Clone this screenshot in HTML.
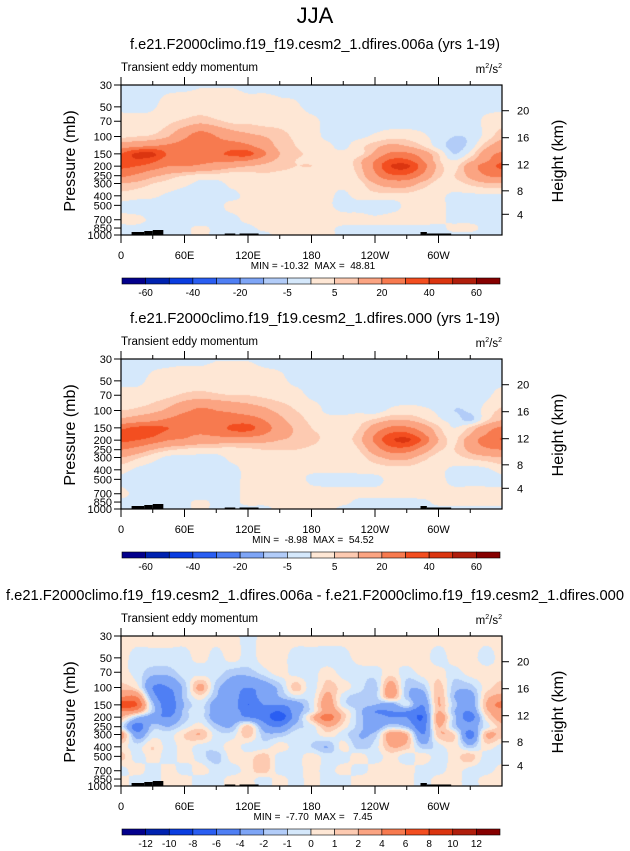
<!DOCTYPE html>
<html><head><meta charset="utf-8">
<style>
html,body{margin:0;padding:0;background:#fff;}
#root{position:relative;width:630px;height:851px;overflow:hidden;font-family:"Liberation Sans",Arial,sans-serif;}
canvas{position:absolute;}
svg{position:absolute;left:0;top:0;}
</style></head>
<body>
<div id="root">
<canvas id="c1" width="381" height="150" style="left:121px;top:85px"></canvas>
<canvas id="c2" width="381" height="150" style="left:121px;top:359px"></canvas>
<canvas id="c3" width="381" height="150" style="left:121px;top:636px"></canvas>
<svg id="ov" width="630" height="851" xmlns="http://www.w3.org/2000/svg">
<text x="315" y="23" font-size="22" text-anchor="middle">JJA</text>
</svg>
</div>
<script>
// ---- data ----
const lons = [0,15,30,45,60,75,90,105,120,135,150,165,180,195,210,225,240,255,270,285,300,315,330,345,360];
const levels = [30,50,70,100,125,150,175,200,250,300,400,500,700,850,1000];
const field1 = [
[-1,-1,-1,-1,-1,-0.3,-0.3,-0.3,-1,-1,-1,-1,-1,-1,-1,-1,-1,-1,-1,-1,-1,-1,-1,-1,-1],
[-1,-1,-0.5,2,3,3,3,3,2,2,1,0.5,-1,-1,-1,-1,-1,-1,-1,-1,-1,-1,-1,-1,-1],
[2,2,2,4,6,8,6,4,4,3,3,2,1,-1,-2,-2,-2,-2,-2,-2,-2,-2,-2,1,3],
[4,5,6,10,18,25,20,15,12,10,7,4,2,-1,-1,-1,1,3,3,1,-2,-5,-4,2,8],
[15,18,20,22,24,25,22,25,22,15,8,5,3,1,-1,3,8,12,10,5,-2,-7,-3,8,15],
[30,42,42,28,25,25,28,32,33,22,10,6,4,1,1,3,12,22,22,15,5,-5,2,15,22],
[33,38,33,24,22,22,22,22,20,14,8,5,4,2,1,8,20,32,32,20,6,0,8,18,28],
[32,30,25,20,20,18,15,12,10,8,6,5,5,3,2,8,22,40,42,25,8,3,15,25,32],
[22,18,12,8,5,3,3,2,3,4,4,4,3,2,1,6,18,28,28,18,6,5,12,20,22],
[10,8,5,3,1,-1,-1,1,2,2,2,2,2,1,1,3,10,14,14,8,3,3,6,9,10],
[3,2,1,-1,-2,-2,-1,-1,1,1,1,1,1,1,-1,2,3,3,3,2,1,-1,-1,-1,-1],
[-1,-2,-2,-3,-2,-2,-1,1,1,2,2,2,2,1,-2,-2,-3,-2,1,2,1,-1,-1,-1,-1],
[1,1,-1,-3,-2,-3,-1,-1,1,2,2,2,2,2,2,2,1,2,2,2,1,-1,-1,-1,-1],
[-1,-1,-2,-1,-1,1,-1,-1,-1,1,1,1,1,1,-1,-1,-1,-1,-1,-1,-1,1,1,-1,-1],
[-1,-1,-1,-1,-1,1,-1,-1,-1,-1,1,1,1,1,-1,-1,-1,-1,-1,-1,-1,-1,-1,-1,-1]];
const field2 = [
[-1,-1,-1,-1,-1,-1,-0.2,-0.2,-0.2,-1,-1,-1,-1,-1,-1,-1,-1,-1,-1,-1,-1,-1,-1,-1,-1],
[-1,-1,1,2,3,3,3,3,3,2,1,-1,-1,-1,-1,-1,-1,-1,-1,-1,-1,-1,-1,-1,-1],
[2,2,3,4,6,7,6,5,5,4,3,2,-1,-1,-2,-2,-2,-2,-2,-2,-2,-2,-2,-1,2],
[5,6,8,12,18,22,20,18,15,12,8,5,3,-1,-1,-1,-2,1,2,1,-1,-5,-4,2,6],
[12,15,18,22,25,24,22,25,25,20,12,7,4,2,1,3,6,10,10,6,1,-2,-6,4,10],
[28,32,32,30,25,22,25,32,33,25,15,9,5,3,2,5,14,22,22,15,6,0,6,15,22],
[32,35,32,26,22,20,22,25,25,20,14,9,6,4,3,7,20,32,33,22,8,3,10,20,28],
[32,30,25,20,18,15,14,14,13,12,10,8,6,4,3,8,22,38,42,28,10,4,15,25,30],
[20,16,10,6,4,3,3,3,4,5,5,5,4,3,2,5,15,25,25,15,6,5,12,18,20],
[10,6,2,-1,-1,-1,-1,1,2,2,2,2,2,2,1,3,8,12,12,7,3,3,6,8,10],
[2,-1,-2,-2,-2,-2,-1,-1,1,1,1,1,1,1,1,1,2,3,3,2,1,-1,-2,-1,2],
[-1,-2,-2,-2,-2,-3,-1,-1,1,2,2,2,-1,-2,-2,-1,-1,1,2,2,1,-1,-1,-1,-1],
[1,-1,-1,-2,-2,-3,-1,-1,1,1,2,2,2,2,2,1,1,1,1,2,1,1,1,1,1],
[-1,-1,-1,-1,-1,1,-1,-1,1,1,1,1,1,1,1,-1,-1,-1,-1,-1,1,1,1,1,1],
[-1,-1,-1,-1,-1,1,-1,-1,-1,-1,1,1,1,1,-1,-1,-1,-1,-1,-1,-1,-1,-1,-1,-1]];
const field3 = [
[0.5,0.5,0.5,0.5,0.5,0.5,0.5,0.5,-0.5,0.5,0.5,0.5,0.5,0.5,0.5,0.5,0.5,0.5,0.5,0.5,0.5,0.5,0.5,0.5,0.5],
[0.5,-0.5,-0.5,-0.5,-0.5,0.5,-0.5,0.5,-0.5,0.5,0.5,-0.5,-0.5,-0.5,-0.5,0.5,0.5,0.5,0.5,0.5,-0.5,0.5,0.5,-0.5,0.5],
[0.5,-0.5,-1.5,-1.5,-0.5,-0.5,-0.5,-1.5,-1.5,-0.5,0.5,-0.5,-0.5,0.5,-0.5,-0.5,-0.5,0.5,-0.5,0.5,0.5,-0.5,0.5,0.5,0.5],
[1.5,0.5,-4,-4,-1.5,2.5,-1.5,-3,-4,-3,-1.5,1.5,-0.5,1.5,0.5,-0.5,-1.5,3,-1.5,-1.5,1.5,-1.5,-1.5,0.5,1.5],
[4,4,-3,-5,-1.5,0.5,-2,-3,-5,-3,-2,-0.5,-0.5,2.5,-0.5,-1.5,-1.5,2.5,-1.5,-3,2,-2,-3,1.5,2.5],
[7,6,-1.5,-5,-2,-0.5,-3,-3,-6,-4,-4,-3,-0.5,3,-0.5,-1.5,-2,-3,-0.5,-4,2,-1.5,-3,2,5],
[4,3,-1.5,-5,-1.5,-0.5,-3,-3,-5,-5,-6,-3,-0.5,3,1,-1.5,-4,-4,-4,-5,2,-2,-4,1.5,3],
[2,-1.5,-3,-4,-1.5,-0.5,-3,-3,-4,-5,-7,-3,1.5,5,1.5,-1.5,-3,-4,-4,-6,3,-1.5,-5,0.5,3],
[-0.5,-5,-1.5,-2,-0.5,0.5,-1.5,-2,1.5,-3,-4,-1.5,-0.5,2,0.5,-1.5,-3,-1,-2,-5,2,-1.5,-3,-0.5,1.5],
[3,-3,-0.5,-0.5,1,2,-0.5,-0.5,1.5,-1.5,-1.5,-0.5,-0.5,0.5,-0.5,-2,-1.5,3,2,-4,1.5,1,-5,2,1.5],
[0.5,-0.5,1,-0.5,0.5,-0.5,-0.5,0.5,-0.5,-0.5,0.5,-0.5,-1,-2,0.5,-1.5,-0.5,2,1.5,-1.5,-0.5,0.5,-1.5,0.5,-0.5],
[1.5,-0.5,0.5,-0.5,0.5,-0.5,-1.5,0.5,0.5,1.5,-0.5,-0.5,0.5,-0.5,-0.5,0.5,-0.5,0.5,-0.5,0.5,-0.5,0.5,1.5,-0.5,-0.5],
[-0.5,0.5,-0.5,0.5,-0.5,0.5,-0.5,-0.5,0.5,1.5,-0.5,-0.5,0.5,-0.5,0.5,-0.5,0.5,0.5,0.5,-0.5,-0.5,0.5,-0.5,-0.5,0.5],
[0.5,-0.5,-0.5,0.5,0.5,-0.5,-0.5,0.5,0.5,-0.5,0.5,-0.5,0.5,-0.5,-0.5,0.5,0.5,0.5,0.5,-0.5,0.5,0.5,-0.5,0.5,0.5],
[0.5,-0.5,-0.5,0.5,0.5,-0.5,-0.5,0.5,0.5,-0.5,0.5,-0.5,0.5,-0.5,-0.5,0.5,0.5,0.5,0.5,-0.5,0.5,0.5,-0.5,0.5,0.5]];
const bounds12 = [-60,-50,-40,-30,-20,-10,-5,0,5,10,20,30,40,50,60];
const labels12 = ["-60","-40","-20","-5","5","20","40","60"];
const bounds3 = [-12,-10,-8,-6,-4,-2,-1,0,1,2,4,6,8,10,12];
const labels3 = ["-12","-10","-8","-6","-4","-2","-1","0","1","2","4","6","8","10","12"];
const colors = ['#03008c','#0022b0','#0a3de0','#2a5ef2','#4f7ff4','#7ea5f6','#b2ccf8','#d5e8fb','#fee7d5','#fdcab1','#fba482','#f77a4f','#f34e20','#db3510','#b01e0c','#860000'];
const pTicks = [30,50,70,100,150,200,250,300,400,500,700,850,1000];
const zTicks = [4,8,12,16,20];
const lonTicks = [0,60,120,180,240,300];
const lonLabels = ["0","60E","120E","180","120W","60W"];
const titles = ["f.e21.F2000climo.f19_f19.cesm2_1.dfires.006a (yrs 1-19)","f.e21.F2000climo.f19_f19.cesm2_1.dfires.000 (yrs 1-19)","f.e21.F2000climo.f19_f19.cesm2_1.dfires.006a - f.e21.F2000climo.f19_f19.cesm2_1.dfires.000"];
const minmax = ["MIN = -10.32  MAX =  48.81","MIN =  -8.98  MAX =  54.52","MIN =  -7.70  MAX =   7.45"];

// ---- geometry ----
const PX=121, PW=381, PH=150;
const tops=[85,359,636];
const L0=Math.log(30), LR=Math.log(1000/30);
const xOf = lon => PX + lon/360*PW;
const yOf = (p,top) => top + PH*(Math.log(p)-L0)/LR;
function pOfZ(z){ return z<=11 ? 1013.25*Math.pow(1-0.0065*z*1000/288.15,5.256) : 226.3*Math.exp(-(z-11)/6.34); }
const lnLev = levels.map(p=>Math.log(p));

function cr(p0,p1,p2,p3,t){return 0.5*((2*p1)+(-p0+p2)*t+(2*p0-5*p1+4*p2-p3)*t*t+(-p0+3*p1-3*p2+p3)*t*t*t);}
function sample(F,fi,fj){
  const nI=lons.length, nJ=levels.length;
  const i=Math.min(Math.floor(fi),nI-2), j=Math.min(Math.floor(fj),nJ-2);
  const ti=fi-i, tj=fj-j;
  const gv=(jj,ii)=>F[Math.max(0,Math.min(nJ-1,jj))][Math.max(0,Math.min(nI-1,ii))];
  const r=[];
  for(let k=-1;k<=2;k++) r.push(cr(gv(j+k,i-1),gv(j+k,i),gv(j+k,i+1),gv(j+k,i+2),ti));
  return cr(r[0],r[1],r[2],r[3],tj);
}
function hex(c){return [parseInt(c.substr(1,2),16),parseInt(c.substr(3,2),16),parseInt(c.substr(5,2),16)];}
const rgb=colors.map(hex);
function draw(id,F,bounds){
  const cv=document.getElementById(id), ctx=cv.getContext('2d');
  const img=ctx.createImageData(PW,PH);
  for(let y=0;y<PH;y++){
    const lp=L0+(y+0.5)/PH*LR;
    let j=0; while(j<levels.length-2 && lnLev[j+1]<lp) j++;
    const fj=j+(lp-lnLev[j])/(lnLev[j+1]-lnLev[j]);
    for(let x=0;x<PW;x++){
      const lon=(x+0.5)/PW*360;
      const fi=lon/15;
      const v=sample(F,fi,fj);
      let k=0; while(k<bounds.length && v>=bounds[k]) k++;
      const c=rgb[k], o=(y*PW+x)*4;
      img.data[o]=c[0];img.data[o+1]=c[1];img.data[o+2]=c[2];img.data[o+3]=255;
    }
  }
  ctx.putImageData(img,0,0);
}
draw('c1',field1,bounds12);
draw('c2',field2,bounds12);
draw('c3',field3,bounds3);

// ---- overlay ----
const NS='http://www.w3.org/2000/svg';
const ov=document.getElementById('ov');
function mk(tag,attrs,txt){const e=document.createElementNS(NS,tag);for(const k in attrs)e.setAttribute(k,attrs[k]);if(txt!==undefined)e.textContent=txt;ov.appendChild(e);return e;}

for(let pi=0;pi<3;pi++){
  const top=tops[pi], bot=top+PH;
  const tw = pi===2 ? 618 : 370;
  let e=mk('text',{x:315,y:top-36,'font-size':15,'text-anchor':'middle',textLength:tw,lengthAdjust:'spacingAndGlyphs'},titles[pi]);
  
  
  e=mk('text',{x:121,y:top-14,'font-size':11.5,textLength:137,lengthAdjust:'spacingAndGlyphs'},'Transient eddy momentum');
  
  
  e=mk('text',{x:502,y:top-12,'font-size':11.5,'text-anchor':'end'});
  e.innerHTML='m<tspan dy="-5" font-size="7">2</tspan><tspan dy="5">/s</tspan><tspan dy="-5" font-size="7">2</tspan>';
  
  
  const topo=[[10,22,3],[22,30,4],[30,40,5],[98,108,1.5],[112,130,1.5],[283,289,3],[289,312,1.5]];
  topo.forEach(t=>{const r=mk('rect',{x:xOf(t[0]),y:bot-t[2],width:xOf(t[1])-xOf(t[0]),height:t[2],fill:'#000'});
    
    });
  e=mk('rect',{x:PX,y:top,width:PW,height:PH,fill:'none',stroke:'#000','stroke-width':1.2});
  
  
  for(let lon=0;lon<360;lon+=30){
    const x=xOf(lon), len = lon%60===0?8:4;
    mk('line',{x1:x,y1:top,x2:x,y2:top-len,stroke:'#000','stroke-width':1});
    mk('line',{x1:x,y1:bot,x2:x,y2:bot+len,stroke:'#000','stroke-width':1});
  }
  lonTicks.forEach((lon,i)=>{const t=mk('text',{x:xOf(lon),y:bot+24,'font-size':11,'text-anchor':'middle'},lonLabels[i]);
    
    });
  pTicks.forEach(p=>{const y=yOf(p,top);
    mk('line',{x1:PX-7,y1:y,x2:PX,y2:y,stroke:'#000','stroke-width':1});
    const t=mk('text',{x:PX-9,y:y+4,'font-size':11,'text-anchor':'end'},String(p));
    
    });
  zTicks.forEach(z=>{const y=yOf(pOfZ(z),top);
    mk('line',{x1:PX+PW,y1:y,x2:PX+PW+7,y2:y,stroke:'#000','stroke-width':1});
    const t=mk('text',{x:PX+PW+15,y:y+4,'font-size':11},String(z));
    
    });
  e=mk('text',{x:0,y:0,'font-size':16,'text-anchor':'middle',transform:`translate(75,${top+76}) rotate(-90)`},'Pressure (mb)');
  
  
  e=mk('text',{x:0,y:0,'font-size':16,'text-anchor':'middle',transform:`translate(563,${top+76}) rotate(-90)`},'Height (km)');
  
  
  e=mk('text',{x:313,y:bot+34,'font-size':10,'text-anchor':'middle',style:'white-space:pre'},minmax[pi]);
  
  
  const cy=top+193, cx0=122, cw=378/16;
  colors.forEach((c,k)=>{const r=mk('rect',{x:cx0+k*cw,y:cy,width:cw,height:6,fill:c,stroke:'#000','stroke-width':0.6});
    
    });
  const labs = pi===2?labels3:labels12;
  const step = pi===2?1:2;
  labs.forEach((l,k)=>{const t=mk('text',{x:cx0+(1+k*step)*cw,y:cy+18,'font-size':10,'text-anchor':'middle'},l);
    
    });
}
</script>
</body></html>
